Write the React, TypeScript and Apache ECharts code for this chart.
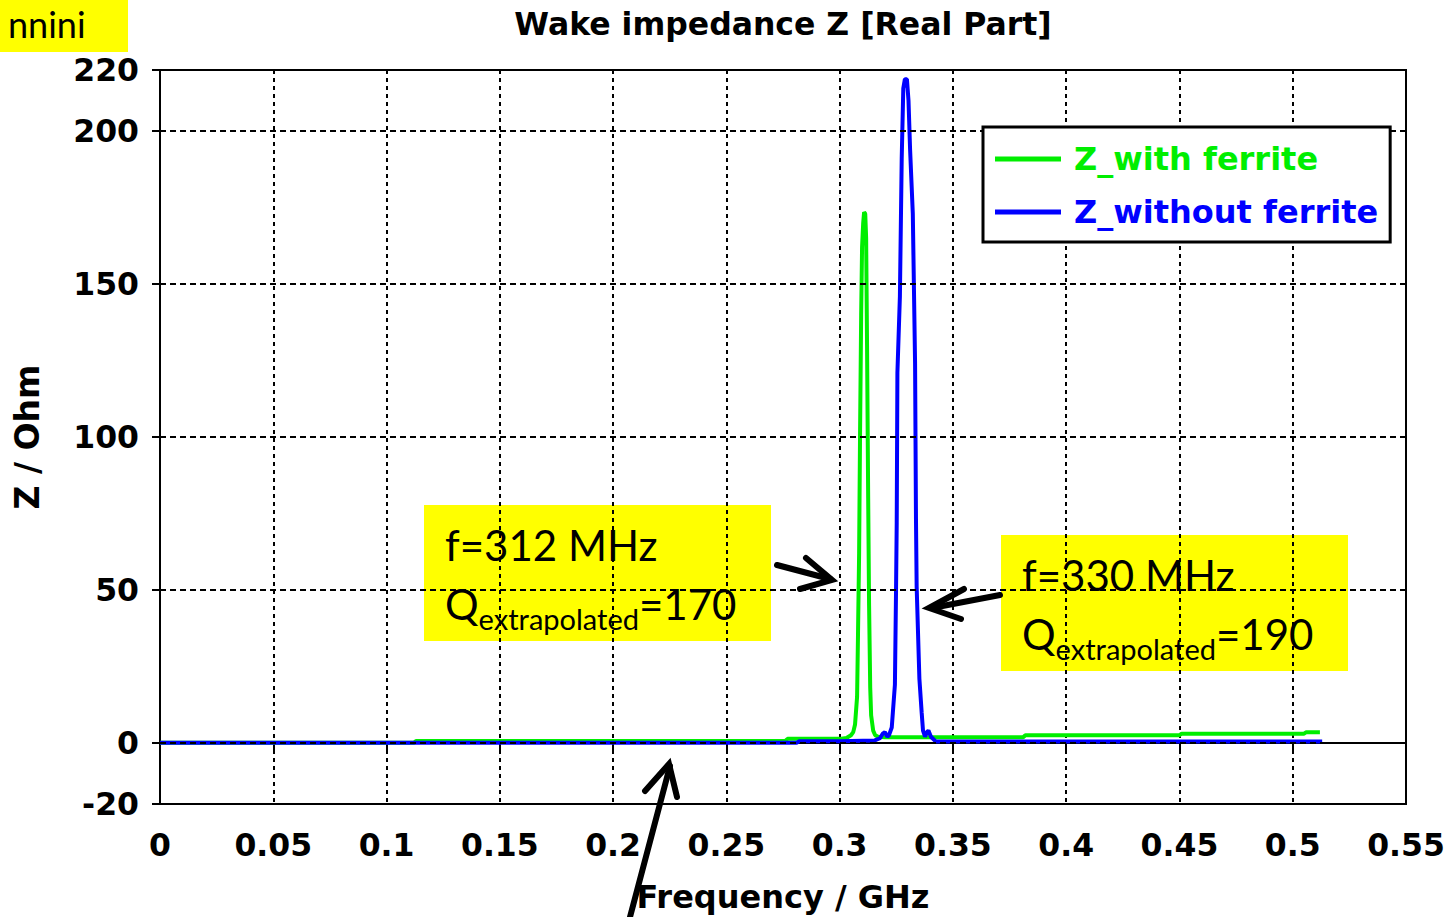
import React, { useEffect, useRef } from "react";
import * as echarts from "echarts";

const titleText = "Wake impedance Z [Real Part]";
const xName = "Frequency / GHz";
const yName = "Z / Ohm";
const cornerLabel = "nnini";
const yTickValues = [-20, 0, 50, 100, 150, 200, 220];
const hGridValues = [0, 50, 100, 150, 200];
const seriesNames = ["Z_with ferrite", "Z_without ferrite"];

// [frequency GHz, Z Ohm]
const withFerrite: number[][] = [
  [0, 0], [0.112, 0], [0.113, 0.6], [0.276, 0.6], [0.277, 1.3], [0.3, 1.3],
  [0.303, 1.6], [0.305, 2.5], [0.306, 3.5], [0.3068, 6], [0.3077, 15],
  [0.3081, 35], [0.3086, 62], [0.309, 100], [0.3095, 140], [0.3099, 162],
  [0.3104, 170], [0.3108, 173.5], [0.3113, 173], [0.3117, 165], [0.3121, 130],
  [0.3126, 80], [0.313, 45], [0.3135, 18], [0.3139, 9], [0.3148, 4],
  [0.3157, 2.5], [0.317, 2], [0.32, 1.8], [0.381, 1.8], [0.382, 2.5],
  [0.45, 2.5], [0.451, 3.0], [0.505, 3.0], [0.506, 3.5], [0.512, 3.5],
];

const withoutFerrite: number[][] = [
  [0, 0], [0.281, 0], [0.282, 0.5], [0.3, 0.5], [0.3155, 0.8], [0.3178, 1.5],
  [0.319, 3], [0.32, 3.5], [0.321, 2], [0.3218, 2.5], [0.323, 5], [0.3244, 19],
  [0.3249, 50], [0.3252, 72], [0.3255, 121], [0.3266, 146], [0.3274, 191],
  [0.3281, 214], [0.3288, 217], [0.3297, 217], [0.3304, 210], [0.3311, 194],
  [0.3323, 173], [0.3333, 124], [0.3337, 73], [0.334, 51], [0.3352, 21],
  [0.3362, 10], [0.3368, 4], [0.3377, 2], [0.3385, 3.5], [0.3392, 4],
  [0.3403, 2], [0.3425, 0.4], [0.513, 0.4],
];

const annot1 = { f: "f=312 MHz", q: "Q", sub: "extrapolated", val: "=170" };
const annot2 = { f: "f=330 MHz", q: "Q", sub: "extrapolated", val: "=190" };

const GREEN = "#00ee00";
const BLUE = "#0000ff";
const AX_FONT = "DejaVu Sans";
const NOTE_FONT = "Lato";
const BIG = 42;
const SUB = 29;

function measure(text: string, font: string): number {
  const c = document.createElement("canvas").getContext("2d");
  if (!c) return text.length * 20;
  c.font = font;
  return c.measureText(text).width;
}

function noteGroup(x: number, y: number, a: { f: string; q: string; sub: string; val: string }) {
  const bigFont = `${BIG}px ${NOTE_FONT}`;
  const subFont = `${SUB}px ${NOTE_FONT}`;
  const wQ = measure(a.q, bigFont);
  const wS = measure(a.sub, subFont);
  return {
    type: "group",
    x,
    y,
    z: 100,
    children: [
      { type: "rect", shape: { x: 0, y: 0, width: 347, height: 136 }, style: { fill: "#ffff00" } },
      { type: "text", x: 21, y: 40, style: { text: a.f, font: bigFont, fill: "#000", verticalAlign: "middle" } },
      { type: "text", x: 21, y: 99, style: { text: a.q, font: bigFont, fill: "#000", verticalAlign: "middle" } },
      { type: "text", x: 21 + wQ, y: 113, style: { text: a.sub, font: subFont, fill: "#000", verticalAlign: "middle" } },
      { type: "text", x: 21 + wQ + wS, y: 99, style: { text: a.val, font: bigFont, fill: "#000", verticalAlign: "middle" } },
    ],
  };
}

function arrow(shaft: number[][], head: number[][]) {
  return {
    type: "group",
    z: 110,
    children: [
      { type: "polyline", shape: { points: shaft }, style: { stroke: "#000", lineWidth: 6, lineCap: "round", fill: null } },
      { type: "polyline", shape: { points: head }, style: { stroke: "#000", lineWidth: 6, lineCap: "round", lineJoin: "miter", fill: null } },
    ],
  };
}

export default function App() {
  const ref = useRef<HTMLDivElement>(null);
  useEffect(() => {
    if (!ref.current) return;
    const chart = echarts.init(ref.current, null, { renderer: "svg" });
    const fmt = (v: number) => String(parseFloat(v.toFixed(3)));
    chart.setOption({
      animation: false,
      backgroundColor: "#fff",
      grid: {
        left: 160, top: 70, width: 1246, height: 734,
        containLabel: false, outerBoundsMode: "none",
        show: true, borderColor: "#000", borderWidth: 2, backgroundColor: "transparent",
      },
      xAxis: {
        type: "value",
        min: 0,
        max: 0.55,
        interval: 0.05,
        name: xName,
        nameLocation: "middle",
        nameGap: 77,
        nameTextStyle: { fontFamily: AX_FONT, fontWeight: "bold", fontSize: 32, color: "#000" },
        axisLine: { lineStyle: { color: "#000", width: 2 } },
        axisTick: { show: true, length: 8, lineStyle: { color: "#000", width: 2 } },
        axisLabel: { formatter: fmt, margin: 25, fontFamily: AX_FONT, fontWeight: "bold", fontSize: 31.5, color: "#000" },
        splitLine: { show: true, lineStyle: { color: "#000", width: 2, type: [4, 4] } },
      },
      yAxis: {
        type: "value",
        min: -20,
        max: 220,
        name: yName,
        nameLocation: "middle",
        nameGap: 116,
        nameTextStyle: { fontFamily: AX_FONT, fontWeight: "bold", fontSize: 33, color: "#000" },
        axisLine: { show: true, lineStyle: { color: "#000", width: 2 } },
        axisTick: { show: true, length: 8, customValues: yTickValues, lineStyle: { color: "#000", width: 2 } },
        axisLabel: { customValues: yTickValues, margin: 21, fontFamily: AX_FONT, fontWeight: "bold", fontSize: 31.5, color: "#000" },
        splitLine: { show: false },
      },
      legend: {
        left: 983,
        top: 127,
        orient: "vertical",
        backgroundColor: "#fff",
        borderColor: "#000",
        borderWidth: 3,
        borderRadius: 0,
        padding: [16, 12, 14, 12],
        itemGap: 21,
        itemWidth: 66,
        itemHeight: 5,
        z: 20,
        textStyle: { fontFamily: AX_FONT, fontWeight: "bold", fontSize: 32, padding: [0, 0, 0, 8] },
        data: [
          { name: seriesNames[0], icon: "rect", textStyle: { color: GREEN } },
          { name: seriesNames[1], icon: "rect", textStyle: { color: BLUE } },
        ],
      },
      graphic: [
        {
          type: "text",
          x: 783,
          y: 24,
          z: 50,
          style: { text: titleText, font: `bold 31.5px ${AX_FONT}`, fill: "#000", align: "center", verticalAlign: "middle" },
        },
        { type: "rect", z: 100, shape: { x: 0, y: 0, width: 128, height: 52 }, style: { fill: "#ffff00" } },
        { type: "text", z: 101, x: 8, y: 24, style: { text: cornerLabel, font: `36px ${NOTE_FONT}`, fill: "#000", verticalAlign: "middle" } },
        noteGroup(424, 505, annot1),
        noteGroup(1001, 535, annot2),
        arrow([[777, 565], [830, 579]], [[806, 558], [832, 580], [800, 589]]),
        arrow([[1000, 595], [932, 608]], [[964, 589], [929, 608], [961, 619]]),
        arrow([[630, 917], [670, 766]], [[645, 791], [669, 764], [677, 797]]),
      ],
      series: [
        {
          name: "grid",
          type: "line",
          data: [],
          z: 1,
          silent: true,
          markLine: {
            silent: true,
            symbol: ["none", "none"],
            label: { show: false },
            lineStyle: { color: "#000", width: 2, type: [6, 4] },
            data: hGridValues.map((v) => ({ yAxis: v })),
          },
        },
        {
          name: seriesNames[0],
          type: "line",
          data: withFerrite,
          showSymbol: false,
          color: GREEN,
          lineStyle: { width: 4, color: GREEN },
          z: 3,
        },
        {
          name: seriesNames[1],
          type: "line",
          data: withoutFerrite,
          showSymbol: false,
          color: BLUE,
          lineStyle: { width: 4, color: BLUE },
          z: 4,
        },
      ],
    });
    return () => chart.dispose();
  }, []);
  return <div ref={ref} style={{ position: "fixed", left: 0, top: 0, width: 1448, height: 917, background: "#fff" }} />;
}
